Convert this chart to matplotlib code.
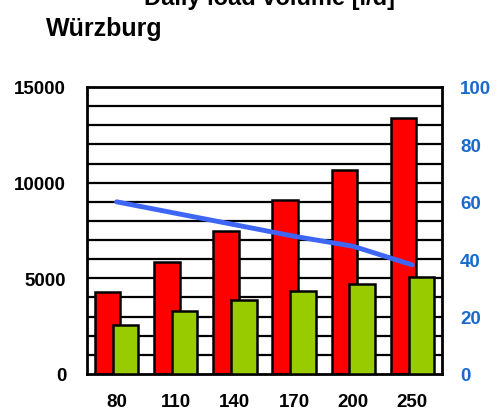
import matplotlib
matplotlib.use("Agg")
import matplotlib.pyplot as plt
import numpy as np

plt.rcParams['font.family'] = ['Liberation Sans', 'DejaVu Sans']

categories = ["80", "110", "140", "170", "200", "250"]
red_values = [4270, 5870, 7490, 9110, 10680, 13360]
green_values = [2560, 3275, 3870, 4355, 4700, 5050]
line_values = [60, 56, 52, 48, 44.5, 38]
left_ticks = [0, 5000, 10000, 15000]
right_ticks = [0, 20, 40, 60, 80, 100]

fig = plt.figure(figsize=(4.97, 4.10), dpi=100)
ax = fig.add_axes([87/497, 35/410, 355/497, 287/410])

x = np.arange(len(categories))
w = 0.43
off = 0.15
for y in range(1000, 15000, 1000):
    ax.axhline(y, color='black', lw=1.6, zorder=1)
ax.bar(x - off, red_values, width=w, color='#ff0000', edgecolor='black', linewidth=1.8, zorder=2)
ax.bar(x + off, green_values, width=w, color='#99cc00', edgecolor='black', linewidth=1.8, zorder=3)
ax.set_xlim(-0.5, len(categories) - 0.5)
ax.set_ylim(0, 15000)
ax.set_yticks(left_ticks)
ax.set_yticklabels([str(t) for t in left_ticks], fontsize=13.5, fontweight='bold')
ax.set_xticks(x)
ax.set_xticklabels(categories, fontsize=13.5, fontweight='bold')
ax.tick_params(axis='both', length=0)
ax.tick_params(axis='y', pad=15)
ax.tick_params(axis='x', pad=14)
for s in ax.spines.values():
    s.set_linewidth(2)
    s.set_color('black')

ax2 = ax.twinx()
ax2.plot(x, line_values, color='#3d66f5', lw=3.5, solid_capstyle='round', zorder=5)
ax2.set_ylim(0, 100)
ax2.set_yticks(right_ticks)
ax2.set_yticklabels([str(t) for t in right_ticks], fontsize=13.5, fontweight='bold', color='#1a6acc')
ax2.tick_params(axis='y', length=0, pad=13)
for s in ax2.spines.values():
    s.set_visible(False)

fig.text(270/497, 1 - 5/410, "Daily load volume [l/d]", ha='center', va='baseline',
         fontsize=17, fontweight='bold')
fig.text(46/497, 1 - 36/410, "Würzburg", ha='left', va='baseline',
         fontsize=18, fontweight='bold')

fig.savefig("out.png", dpi=100)
